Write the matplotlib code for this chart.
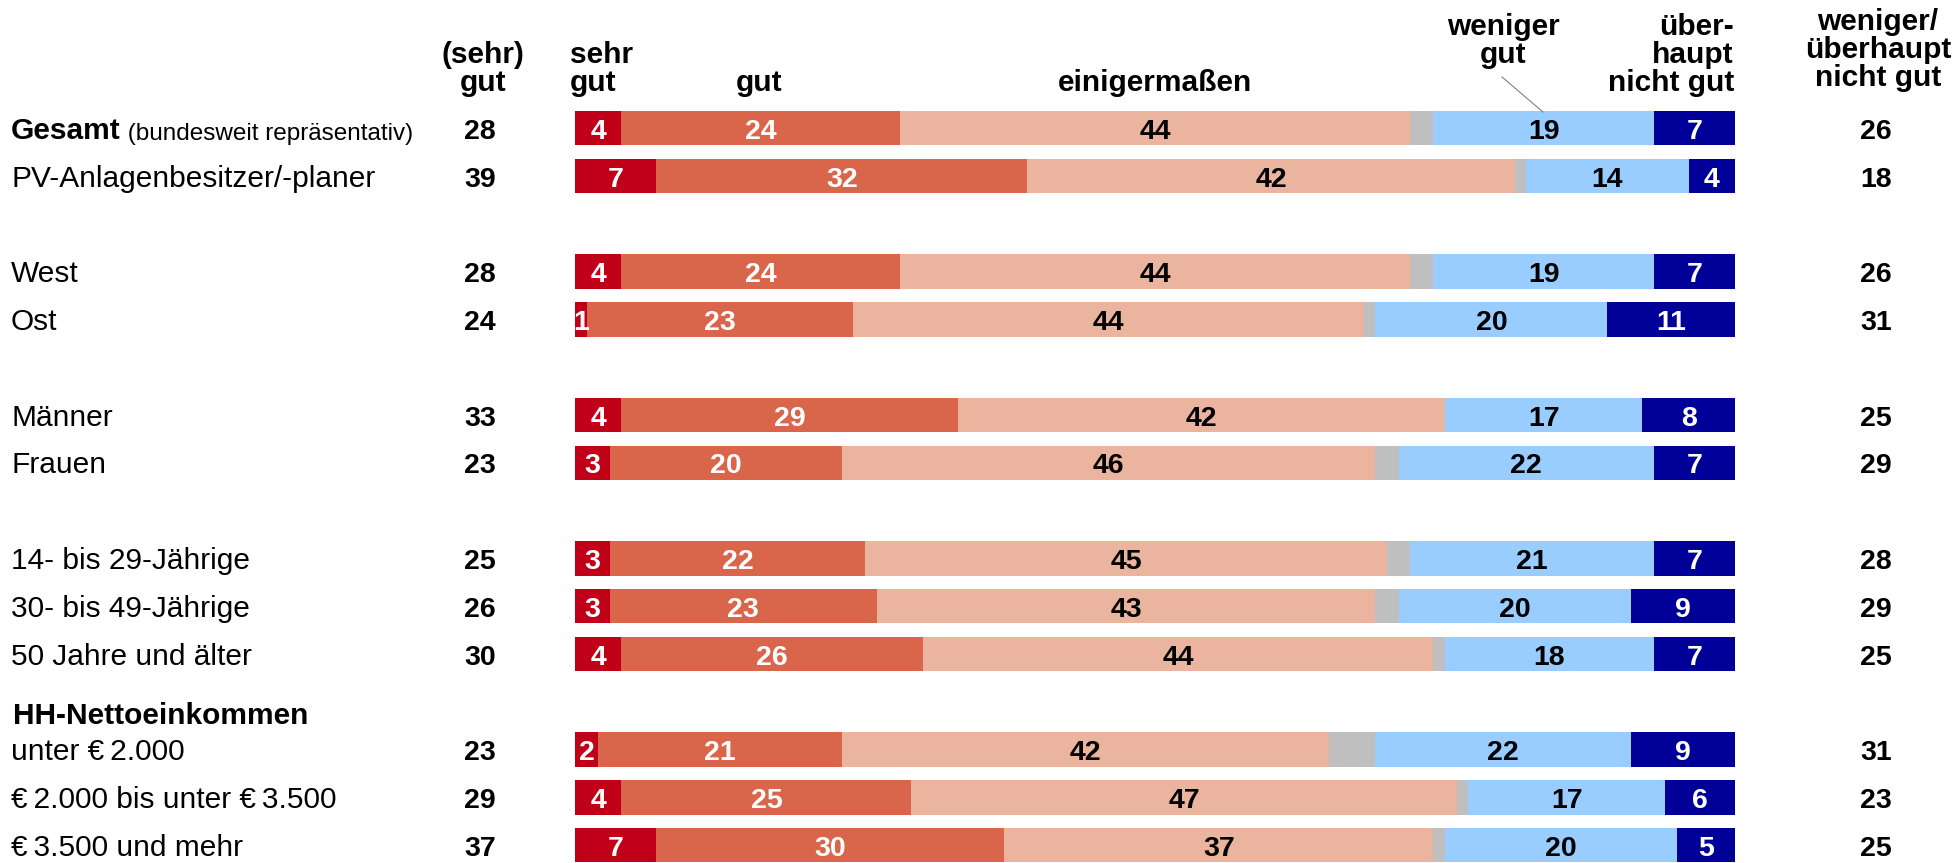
import matplotlib
matplotlib.use('Agg')
import matplotlib.pyplot as plt

plt.rcParams['font.family'] = ['Liberation Sans', 'DejaVu Sans']

# data
labels = ['Gesamt', 'PV-Anlagenbesitzer/-planer', 'West', 'Ost', 'Männer', 'Frauen',
          '14- bis 29-Jährige', '30- bis 49-Jährige', '50 Jahre und älter',
          'unter €\u20092.000', '€\u20092.000 bis unter €\u20093.500', '€\u20093.500 und mehr']
rows = [0, 1, 3, 4, 6, 7, 9, 10, 11, 13, 14, 15]
sehr_gut = [4, 7, 4, 1, 4, 3, 3, 3, 4, 2, 4, 7]
gut = [24, 32, 24, 23, 29, 20, 22, 23, 26, 21, 25, 30]
einigermassen = [44, 42, 44, 44, 42, 46, 45, 43, 44, 42, 47, 37]
weniger_gut = [19, 14, 19, 20, 17, 22, 21, 20, 18, 22, 17, 20]
ueberhaupt_nicht = [7, 4, 7, 11, 8, 7, 7, 9, 7, 9, 6, 5]
sum_gut = [28, 39, 28, 24, 33, 23, 25, 26, 30, 23, 29, 37]
sum_nicht = [26, 18, 26, 31, 25, 29, 28, 29, 25, 31, 23, 25]

colors = ['#C00018', '#D9654A', '#EBB49E', '#BFBFBF', '#99CCFF', '#000099']
txt_colors = ['white', 'white', 'black', None, 'black', 'white']

W, H = 1952, 863
fig = plt.figure(figsize=(W / 100, H / 100), dpi=100)
ax = fig.add_axes([0, 0, 1, 1])

# pixel mapping: 0% at x=575px, 100% at x=1735px; row 0 at y=128px, 47.8px per row
x0, xs = 575, 11.6
y0, ys = 128.2, 47.8
ax.set_xlim(-x0 / xs, (W - x0) / xs)
ax.set_ylim((H - y0) / ys, -y0 / ys)
ax.axis('off')


def px(x):
    return (x - x0) / xs


def py(y):
    return (y - y0) / ys


fs_num = 20.5
fs_lab = 21.5
fs_head = 21.5
bh = 0.72
for i, r in enumerate(rows):
    segs = [sehr_gut[i], gut[i], einigermassen[i], None, weniger_gut[i], ueberhaupt_nicht[i]]
    segs[3] = 100 - sum(s for s in segs if s is not None)
    left = 0
    for k, v in enumerate(segs):
        if v > 0:
            ax.barh(r, v, left=left, height=bh, color=colors[k], linewidth=0)
            if txt_colors[k] is not None:
                ax.text(left + v / 2, r + 0.22, str(v), ha='center', va='baseline',
                        fontsize=fs_num, fontweight='bold', color=txt_colors[k])
        left += v
    ax.text(px(480), r + 0.22, str(sum_gut[i]), ha='center', va='baseline',
            fontsize=fs_num, fontweight='bold')
    ax.text(px(1876), r + 0.22, str(sum_nicht[i]), ha='center', va='baseline',
            fontsize=fs_num, fontweight='bold')
    if i == 0:
        t = ax.text(px(11), r + 0.22, labels[i], ha='left', va='baseline',
                    fontsize=fs_lab, fontweight='bold')
        ax.annotate(' (bundesweit repräsentativ)', xy=(1, 0), xycoords=t,
                    ha='left', va='bottom', fontsize=17.5)
    else:
        ax.text(px(11), r + 0.22, labels[i], ha='left', va='baseline', fontsize=fs_lab)

ax.text(px(13), py(724), 'HH-Nettoeinkommen', ha='left', va='baseline',
        fontsize=fs_lab, fontweight='bold')

# column headers
hb = py(91)
ls = 1.0
ax.text(px(483), hb, '(sehr)\ngut', ha='center', va='baseline', fontsize=fs_head,
        fontweight='bold', linespacing=ls)
ax.text(px(570), hb, 'sehr\ngut', ha='left', va='baseline', fontsize=fs_head,
        fontweight='bold', linespacing=ls, multialignment='left')
ax.text(px(759), hb, 'gut', ha='center', va='baseline', fontsize=fs_head, fontweight='bold')
ax.text(px(1155), hb, 'einigermaßen', ha='center', va='baseline', fontsize=fs_head,
        fontweight='bold')
ax.text(px(1503), py(63), 'weniger\ngut', ha='center', va='baseline', fontsize=fs_head,
        fontweight='bold', linespacing=ls)
ax.text(px(1734), hb, 'über-\nhaupt\nnicht gut', ha='right', va='baseline', fontsize=fs_head,
        fontweight='bold', linespacing=ls, multialignment='right')
ax.text(px(1878), py(86), 'weniger/\nüberhaupt\nnicht gut', ha='center', va='baseline',
        fontsize=fs_head, fontweight='bold', linespacing=ls)
ax.plot([px(1502), px(1543)], [py(77), py(112)], color='#808080', linewidth=0.8)

fig.savefig('out.png', dpi=100)
